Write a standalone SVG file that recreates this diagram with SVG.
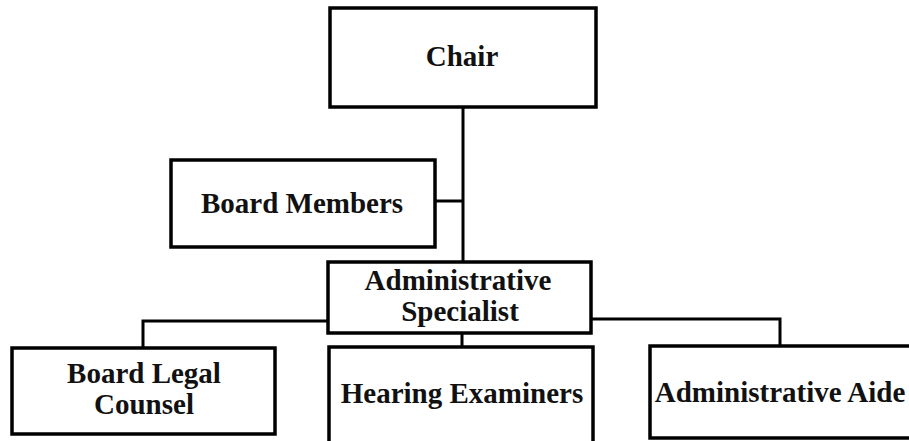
<svg xmlns="http://www.w3.org/2000/svg" width="909" height="441" viewBox="0 0 909 441">
<style>
.box{fill:#fff;stroke:#000;stroke-width:3.5}
.lbl{font-family:"Liberation Serif","Times New Roman",serif;font-weight:bold;font-size:29px;fill:#111;text-anchor:middle}
.con{fill:none;stroke:#000;stroke-width:3}
</style>
<rect width="909" height="441" fill="#fff"/>
<g id="connectors">
<path class="con" d="M463 107V262"/>
<path class="con" d="M435 201H463"/>
<path class="con" d="M462 333V347"/>
<path class="con" d="M328 321H143V349"/>
<path class="con" d="M591 319H780V346"/>
</g>
<g id="chair"><rect class="box" x="330" y="8" width="266" height="99"/><text class="lbl" x="462" y="66">Chair</text></g>
<g id="board-members"><rect class="box" x="171" y="160" width="264" height="87"/><text class="lbl" x="302" y="213">Board Members</text></g>
<g id="admin-specialist"><rect class="box" x="328" y="262" width="263" height="71"/><text class="lbl" x="458" y="290">Administrative</text><text class="lbl" x="460" y="321">Specialist</text></g>
<g id="board-legal-counsel"><rect class="box" x="12" y="348" width="263" height="86"/><text class="lbl" x="144" y="383">Board Legal</text><text class="lbl" x="144" y="414">Counsel</text></g>
<g id="hearing-examiners"><rect class="box" x="329" y="347" width="264" height="100"/><text class="lbl" x="462" y="403">Hearing Examiners</text></g>
<g id="administrative-aide"><rect class="box" x="650" y="346" width="263" height="92"/><text class="lbl" x="780" y="402">Administrative Aide</text></g>
</svg>
